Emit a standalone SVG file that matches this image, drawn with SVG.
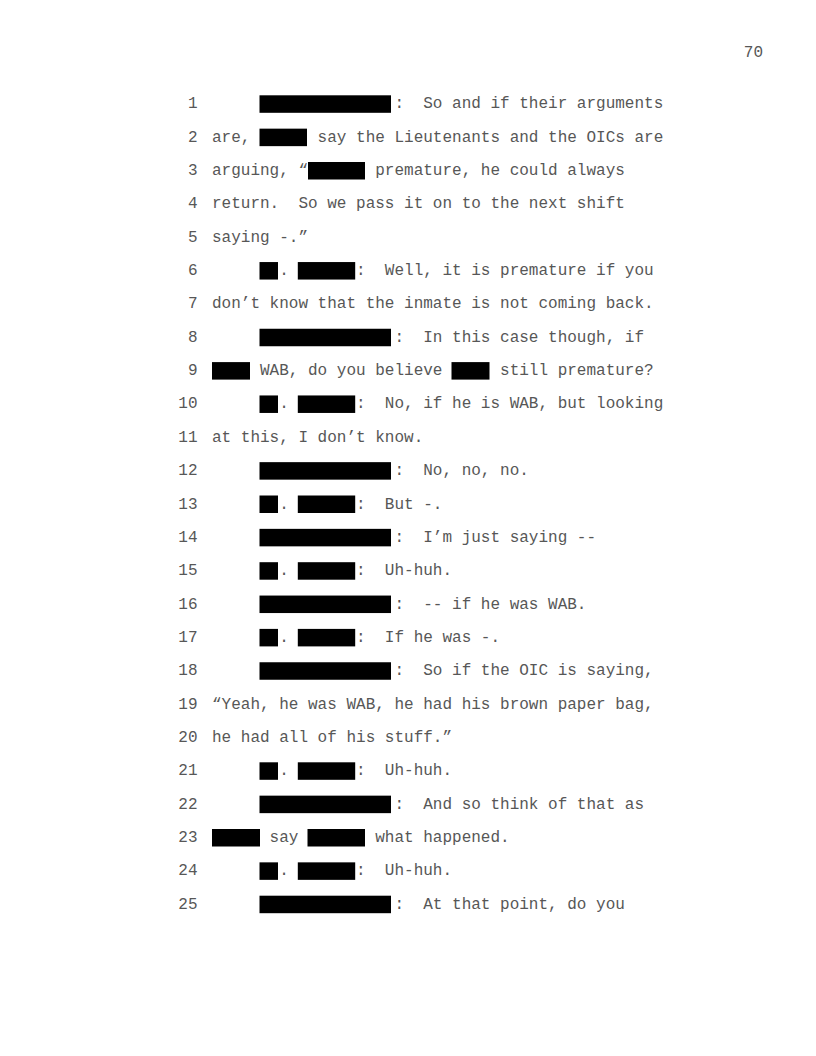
<svg xmlns="http://www.w3.org/2000/svg" width="816" height="1056" viewBox="0 0 816 1056">
<style>
text{font-family:"Liberation Mono","Courier New",monospace;font-size:16px;fill:#575757;white-space:pre}
.n{text-anchor:end}
rect.r{fill:#000}
</style>
<rect x="0" y="0" width="816" height="1056" fill="#fff"/>
<text x="763" y="57.3" class="n">70</text>
<g id="numbers">
<text x="197.5" y="108.3" class="n">1</text>
<text x="197.5" y="141.65" class="n">2</text>
<text x="197.5" y="175" class="n">3</text>
<text x="197.5" y="208.35" class="n">4</text>
<text x="197.5" y="241.7" class="n">5</text>
<text x="197.5" y="275.05" class="n">6</text>
<text x="197.5" y="308.4" class="n">7</text>
<text x="197.5" y="341.75" class="n">8</text>
<text x="197.5" y="375.1" class="n">9</text>
<text x="197.5" y="408.45" class="n">10</text>
<text x="197.5" y="441.8" class="n">11</text>
<text x="197.5" y="475.15" class="n">12</text>
<text x="197.5" y="508.5" class="n">13</text>
<text x="197.5" y="541.85" class="n">14</text>
<text x="197.5" y="575.2" class="n">15</text>
<text x="197.5" y="608.55" class="n">16</text>
<text x="197.5" y="641.9" class="n">17</text>
<text x="197.5" y="675.25" class="n">18</text>
<text x="197.5" y="708.6" class="n">19</text>
<text x="197.5" y="741.95" class="n">20</text>
<text x="197.5" y="775.3" class="n">21</text>
<text x="197.5" y="808.65" class="n">22</text>
<text x="197.5" y="842" class="n">23</text>
<text x="197.5" y="875.35" class="n">24</text>
<text x="197.5" y="908.7" class="n">25</text>
</g>
<g id="lines">
<text x="212" y="108.3" xml:space="preserve">                   :  So and if their arguments</text>
<text x="212" y="141.65" xml:space="preserve">are,       say the Lieutenants and the OICs are</text>
<text x="212" y="175" xml:space="preserve">arguing, “       premature, he could always</text>
<text x="212" y="208.35" xml:space="preserve">return.  So we pass it on to the next shift</text>
<text x="212" y="241.7" xml:space="preserve">saying -.”</text>
<text x="212" y="275.05" xml:space="preserve">       .       :  Well, it is premature if you</text>
<text x="212" y="308.4" xml:space="preserve">don’t know that the inmate is not coming back.</text>
<text x="212" y="341.75" xml:space="preserve">                   :  In this case though, if</text>
<text x="212" y="375.1" xml:space="preserve">     WAB, do you believe      still premature?</text>
<text x="212" y="408.45" xml:space="preserve">       .       :  No, if he is WAB, but looking</text>
<text x="212" y="441.8" xml:space="preserve">at this, I don’t know.</text>
<text x="212" y="475.15" xml:space="preserve">                   :  No, no, no.</text>
<text x="212" y="508.5" xml:space="preserve">       .       :  But -.</text>
<text x="212" y="541.85" xml:space="preserve">                   :  I’m just saying --</text>
<text x="212" y="575.2" xml:space="preserve">       .       :  Uh-huh.</text>
<text x="212" y="608.55" xml:space="preserve">                   :  -- if he was WAB.</text>
<text x="212" y="641.9" xml:space="preserve">       .       :  If he was -.</text>
<text x="212" y="675.25" xml:space="preserve">                   :  So if the OIC is saying,</text>
<text x="212" y="708.6" xml:space="preserve">“Yeah, he was WAB, he had his brown paper bag,</text>
<text x="212" y="741.95" xml:space="preserve">he had all of his stuff.”</text>
<text x="212" y="775.3" xml:space="preserve">       .       :  Uh-huh.</text>
<text x="212" y="808.65" xml:space="preserve">                   :  And so think of that as</text>
<text x="212" y="842" xml:space="preserve">      say        what happened.</text>
<text x="212" y="875.35" xml:space="preserve">       .       :  Uh-huh.</text>
<text x="212" y="908.7" xml:space="preserve">                   :  At that point, do you</text>
</g>
<g id="redactions">
<rect class="r" x="259.5" y="95.3" width="131.5" height="17.5"/>
<rect class="r" x="259.5" y="128.65" width="47.5" height="17.5"/>
<rect class="r" x="308" y="162" width="57" height="17.5"/>
<rect class="r" x="259.5" y="262.05" width="18.5" height="17.5"/>
<rect class="r" x="297.8" y="262.05" width="57.4" height="17.5"/>
<rect class="r" x="259.5" y="328.75" width="131.5" height="17.5"/>
<rect class="r" x="212" y="362.1" width="38" height="17.5"/>
<rect class="r" x="451.5" y="362.1" width="38" height="17.5"/>
<rect class="r" x="259.5" y="395.45" width="18.5" height="17.5"/>
<rect class="r" x="297.8" y="395.45" width="57.4" height="17.5"/>
<rect class="r" x="259.5" y="462.15" width="131.5" height="17.5"/>
<rect class="r" x="259.5" y="495.5" width="18.5" height="17.5"/>
<rect class="r" x="297.8" y="495.5" width="57.4" height="17.5"/>
<rect class="r" x="259.5" y="528.85" width="131.5" height="17.5"/>
<rect class="r" x="259.5" y="562.2" width="18.5" height="17.5"/>
<rect class="r" x="297.8" y="562.2" width="57.4" height="17.5"/>
<rect class="r" x="259.5" y="595.55" width="131.5" height="17.5"/>
<rect class="r" x="259.5" y="628.9" width="18.5" height="17.5"/>
<rect class="r" x="297.8" y="628.9" width="57.4" height="17.5"/>
<rect class="r" x="259.5" y="662.25" width="131.5" height="17.5"/>
<rect class="r" x="259.5" y="762.3" width="18.5" height="17.5"/>
<rect class="r" x="297.8" y="762.3" width="57.4" height="17.5"/>
<rect class="r" x="259.5" y="795.65" width="131.5" height="17.5"/>
<rect class="r" x="212" y="829" width="48" height="17.5"/>
<rect class="r" x="307.5" y="829" width="57.5" height="17.5"/>
<rect class="r" x="259.5" y="862.35" width="18.5" height="17.5"/>
<rect class="r" x="297.8" y="862.35" width="57.4" height="17.5"/>
<rect class="r" x="259.5" y="895.7" width="131.5" height="17.5"/>
</g>
</svg>
